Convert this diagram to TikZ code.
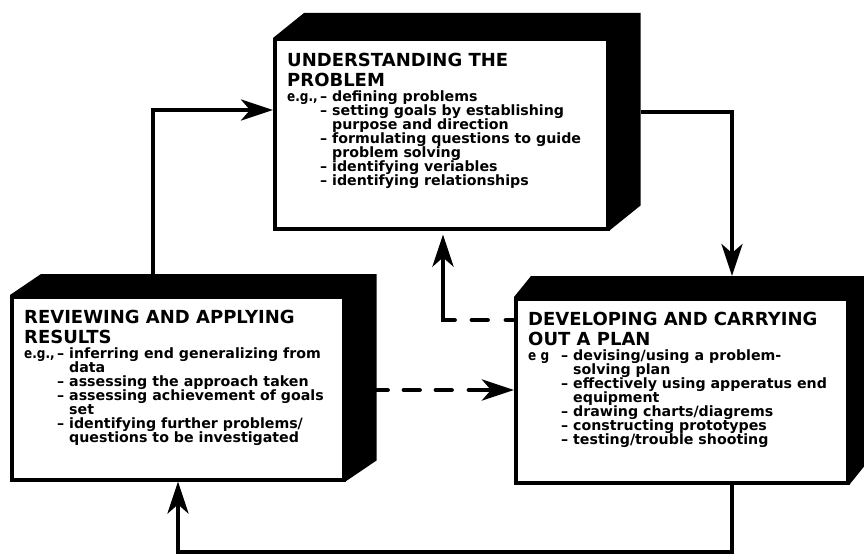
\documentclass[tikz,border=0pt]{standalone}
\usepackage{graphicx}
\usepackage{fontspec}
\setmainfont{DejaVu Sans}
\usetikzlibrary{arrows.meta,positioning,calc}

\newcommand{\egtag}[1]{\makebox[33pt][l]{\scalebox{0.85}[1]{#1}}}
\newcommand{\dashitem}{\makebox[12pt][l]{--}}
\newcommand{\nextitem}{\hspace*{33pt}\dashitem}
\newcommand{\carryon}{\hspace*{45pt}}

\begin{document}
\begin{tikzpicture}[x=1pt, y=-1pt,
  facebox/.style={rectangle, draw=black, fill=white, line width=3.5pt,
    inner sep=0pt, anchor=north west},
  headtext/.style={inner sep=0pt, anchor=north west, align=left,
    font=\fontsize{18}{20}\selectfont\bfseries},
  listtext/.style={inner sep=0pt, anchor=north west, align=left,
    font=\fontsize{14.2}{14}\selectfont\bfseries},
  flow/.style={line width=4.2pt, -{Stealth[length=32pt,width=21pt,inset=9pt]}},
  dashflow/.style={flow, line width=4.8pt, line cap=round}]
  \useasboundingbox (0,0) rectangle (864,556);

  % understanding the problem
  \node[facebox, minimum width=333pt, minimum height=189pt] (under) at (273,38) {};
  \fill (under.north west) -- ++(31,-25) -- ($(under.north east)+(31,-25)$)
    -- ($(under.south east)+(31,-25)$) -- (under.south east) -- (under.north east) -- cycle;
  \node[headtext] (under-head) at ($(under.north west)+(14,15)$)
    {UNDERSTANDING THE\\PROBLEM};
  \node[listtext] (under-list) at ($(under.north west)+(14,53)$)
    {\egtag{e.g.,}\dashitem defining problems\\
     \nextitem setting goals by establishing\\
     \carryon purpose and direction\\
     \nextitem formulating questions to guide\\
     \carryon problem solving\\
     \nextitem identifying veriables\\
     \nextitem identifying relationships};

  % reviewing and applying results
  \node[facebox, minimum width=332pt, minimum height=183pt] (rev) at (10,295) {};
  \fill (rev.north west) -- ++(31,-21) -- ($(rev.north east)+(31,-21)$)
    -- ($(rev.south east)+(31,-21)$) -- (rev.south east) -- (rev.north east) -- cycle;
  \node[headtext] (rev-head) at ($(rev.north west)+(14,15)$)
    {REVIEWING AND APPLYING\\RESULTS};
  \node[listtext] (rev-list) at ($(rev.north west)+(14,53)$)
    {\egtag{e.g.,}\dashitem inferring end generalizing from\\
     \carryon data\\
     \nextitem assessing the approach taken\\
     \nextitem assessing achievement of goals\\
     \carryon set\\
     \nextitem identifying further problems/\\
     \carryon questions to be investigated};

  % developing and carrying out a plan
  \node[facebox, minimum width=332pt, minimum height=184pt] (dev) at (514,297) {};
  \fill (dev.north west) -- ++(17,-21) -- ($(dev.north east)+(17,-21)$)
    -- ($(dev.south east)+(17,-21)$) -- (dev.south east) -- (dev.north east) -- cycle;
  \node[headtext] (dev-head) at ($(dev.north west)+(14,15)$)
    {DEVELOPING AND CARRYING\\OUT A PLAN};
  \node[listtext] (dev-list) at ($(dev.north west)+(14,53)$)
    {\egtag{e g}\dashitem devising/using a problem-\\
     \carryon solving plan\\
     \nextitem effectively using apperatus end\\
     \carryon equipment\\
     \nextitem drawing charts/diagrems\\
     \nextitem constructing prototypes\\
     \nextitem testing/trouble shooting};

  % cycle connectors
  \draw[flow] ($(rev.north west)+(143,-21)$) |- ($(under.north west)+(0,72)$);
  \draw[flow] ($(under.north east)+(31,74)$) -| ($(dev.north west)+(218,-21)$);
  \coordinate (lowrun) at (178,552);
  \draw[flow] ($(dev.south west)+(218,0)$) |- (lowrun) -- ($(rev.south west)+(168,0)$);

  % dashed connectors
  \draw[dashflow, dash pattern=on 8pt off 18.5pt on 15.5pt off 17.5pt on 300pt]
    ($(dev.north west)+(0,23)$) -| ($(under.south west)+(170,4)$);
  \coordinate (revside) at ($(rev.north east)+(31,95)$);
  \draw[dashflow, dash pattern=on 11pt off 16.5pt on 15.5pt off 16.5pt on 15.5pt off 17.5pt on 100pt]
    (revside) -- (revside -| dev.west);
\end{tikzpicture}
\end{document}
